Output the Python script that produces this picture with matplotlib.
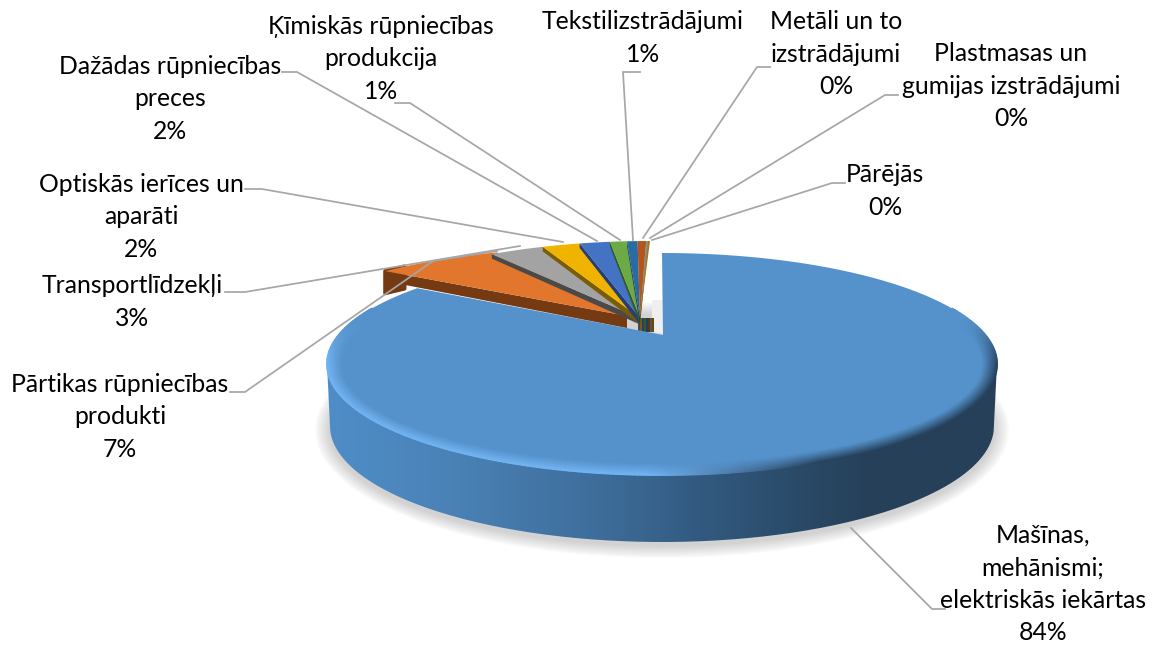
import numpy as np
import matplotlib
matplotlib.use("Agg")
import matplotlib.pyplot as plt
from matplotlib.patches import Polygon, Ellipse, PathPatch
from matplotlib.path import Path
from matplotlib.collections import LineCollection
from matplotlib.colors import to_rgb, LinearSegmentedColormap

# ---------- data ----------
labels = ["Mašīnas,\nmehānismi;\nelektriskās iekārtas",
          "Pārtikas rūpniecības\nprodukti",
          "Transportlīdzekļi",
          "Optiskās ierīces un\naparāti",
          "Dažādas rūpniecības\npreces",
          "Ķīmiskās rūpniecības\nprodukcija",
          "Tekstilizstrādājumi",
          "Metāli un to\nizstrādājumi",
          "Plastmasas un\ngumijas izstrādājumi",
          "Pārējās"]
values = [84.1, 7.3, 2.9, 2.0, 1.6, 0.9, 0.55, 0.45, 0.1, 0.1]
top_colors = ["#5592CB", "#E2762C", "#A3A3A3", "#F0B400", "#4472C4",
              "#6BAA45", "#2A6BA6", "#B4561B", "#8C8C8C", "#9A7A10"]
wall_colors = ["#2A4660", "#763A12", "#4A4A4A", "#7A5C04", "#243F78",
               "#36592A", "#1D3F5E", "#64300E", "#555555", "#5E4C0C"]
label_xy = [(1043, 584), (120, 417), (132, 302), (141, 217), (170, 99),
            (381, 59), (643, 38), (836, 54), (1011, 86), (885, 191)]
leaders = [[(945, 609), (932, 609), (851, 528)],
           [(230, 392), (245, 392), (433, 261), (497, 251)],
           [(225, 292), (245, 292), (520, 246)],
           [(245, 189), (262, 189), (563, 242)],
           [(282, 72), (297, 72), (597, 241)],
           [(395, 103), (410, 103), (620, 240)],
           [(640, 72), (623, 72), (633, 240)],
           [(770, 67), (757, 67), (643, 238)],
           [(898, 95), (885, 95), (650, 238)],
           [(845, 183), (832, 183), (652, 240)]]

plt.rcParams["font.family"] = ["Lato", "DejaVu Sans"]
fig = plt.figure(figsize=(11.6, 6.45), dpi=100, facecolor="white")
ax = fig.add_axes([0, 0, 1, 1])
ax.set_xlim(0, 1160)
ax.set_ylim(645, 0)
ax.axis("off")

RX, RY = 335, 111
BIG_C = (662, 364)
BIG_APEX = (663, 335)
REST_C = (650, 352)
REST_APEX = (640, 318)
OR_C = (590, 359)
OR_APEX = (627, 316)
DEPTH_SCALE_BIG = 0.82   # perspective compression of the gap at the back
DEPTH_SCALE_REST = 0.91
DEPTH_SCALE_OR = 0.82


def rim(c, t0, t1, n=60, rx=RX, ry=RY):
    t = np.radians(np.linspace(t0, t1, n))
    return np.column_stack([c[0] - rx * np.sin(t), c[1] - ry * np.cos(t)])


def mix(a, b, w):
    a, b = np.array(to_rgb(a)), np.array(to_rgb(b))
    return a * (1 - w) + b * w


# soft shadow
for i in range(14):
    ax.add_patch(Ellipse((662, 430), 2 * (333 + 14 - i * 1.1), 2 * (117 + 11 - i * 0.9),
                         fc="#777777", ec="none", alpha=0.022, zorder=1))

# faint shade in the gap beside the big slice
ax.add_patch(Polygon([(652, 300), (663, 300), (663, 334), (652, 332)],
                     fc="#EFEFEF", ec="none", zorder=1.5))

# small slices, drawn left to right
rest = values[1:]
cum = np.cumsum(rest[::-1])[::-1]
z = 2
for i, v in enumerate(rest):
    idx = i + 1
    end = cum[i + 1] if i + 1 < len(rest) else 0.0
    if i == 0:
        t_right = np.degrees(np.arcsin((OR_C[0] - 497) / RX))
        t_left = t_right + v * 3.6 * DEPTH_SCALE_OR
        c, a, d = OR_C, OR_APEX, 10
    else:
        t_left = cum[i] * 3.6 * DEPTH_SCALE_REST
        t_right = end * 3.6 * DEPTH_SCALE_REST
        c, a, d = REST_C, REST_APEX, 4.5
    r = rim(c, t_left, t_right)
    p0 = r[0]
    if i == 0:
        # outer wall for the exploded slice, rounded at the left end
        wall = np.vstack([r[:12], r[:12][::-1] + [0, 22]])
        ax.add_patch(Polygon(wall, fc=wall_colors[idx], ec=wall_colors[idx], lw=3,
                             joinstyle="round", zorder=z))
    ax.add_patch(Polygon([p0, a, (a[0], a[1] + d + 2), (p0[0], p0[1] + d)],
                         fc=wall_colors[idx], ec="none", zorder=z))
    ax.add_patch(Polygon(np.vstack([r, a]), fc=top_colors[idx], ec="none", zorder=z + 0.1))
    if i > 0:
        ax.add_patch(Polygon([(a[0] - 4 + i * 2, a[1]), (a[0] - 2 + i * 2, a[1]),
                              (a[0] - 2 + i * 2, a[1] + 14), (a[0] - 4 + i * 2, a[1] + 14)],
                             fc=wall_colors[idx], ec="none", zorder=z + 0.15))
    z += 0.2

# big slice: side wall with a horizontal gradient
Z_BIG = 5
sweep_gap = (100 - values[0]) * 3.6 * DEPTH_SCALE_BIG
front_top = rim(BIG_C, 90, 270, 200)
front_bot = rim((662, 426), 270, 90, 200, rx=332, ry=116)
wall_path = Path(np.vstack([front_top, front_bot, front_top[:1]]))
stops = [(327, "#4F8DC8"), (450, "#4A82B6"), (600, "#3E6D9A"), (700, "#325A80"),
         (800, "#2A4A68"), (870, "#264059"), (998, "#264059")]
cmap = LinearSegmentedColormap.from_list(
    "wall", [((s[0] - 327) / (998 - 327), s[1]) for s in stops])
im = ax.imshow(np.linspace(0, 1, 672).reshape(1, -1), cmap=cmap, aspect="auto",
               extent=(327, 998, 545, 330), zorder=Z_BIG)
im.set_clip_path(PathPatch(wall_path, transform=ax.transData))
ax.set_xlim(0, 1160)
ax.set_ylim(645, 0)

# big slice: top face
big_rim = rim(BIG_C, -0.0, -(360 - sweep_gap), 300)
ax.add_patch(Polygon(np.vstack([big_rim, BIG_APEX]), fc=top_colors[0], ec="none", zorder=Z_BIG + 1))

# bevel along the front of the rim
face = top_colors[0]
for s in np.linspace(0, 1, 26):
    th = np.radians(np.linspace(-30, 210, 260))
    x = BIG_C[0] + (RX - 16 * s) * np.cos(th)
    y = BIG_C[1] + (RY - 13 * s) * np.sin(th)
    pts = np.column_stack([x, y])
    segs = np.stack([pts[:-1], pts[1:]], axis=1)
    cols = []
    for xi, sth in zip(x[:-1], np.sin(th[:-1])):
        wt = np.clip((sth + 0.45) / 0.5, 0, 1)
        wt = wt * wt * (3 - 2 * wt)
        f = np.clip((xi - 650) / 170, 0, 1)
        edge = mix("#74B6F6", "#26405A", f)
        prof = (1 - s) ** 1.1
        cols.append(mix(face, edge, wt * prof))
    ax.add_collection(LineCollection(segs, colors=cols, linewidths=1.3, zorder=Z_BIG + 2,
                                     capstyle="round"))

# leader lines
for pts in leaders:
    xs, ys = zip(*pts)
    ax.plot(xs, ys, color="#A6A6A6", lw=1.25, zorder=8, solid_joinstyle="miter")

# labels
for lab, v, (x, y) in zip(labels, values, label_xy):
    ax.text(x, y, f"{lab}\n{round(v)}%", ha="center", va="center", fontsize=17.8,
            linespacing=1.5, color="black", zorder=9)

fig.savefig("out.png", dpi=100, facecolor="white")
